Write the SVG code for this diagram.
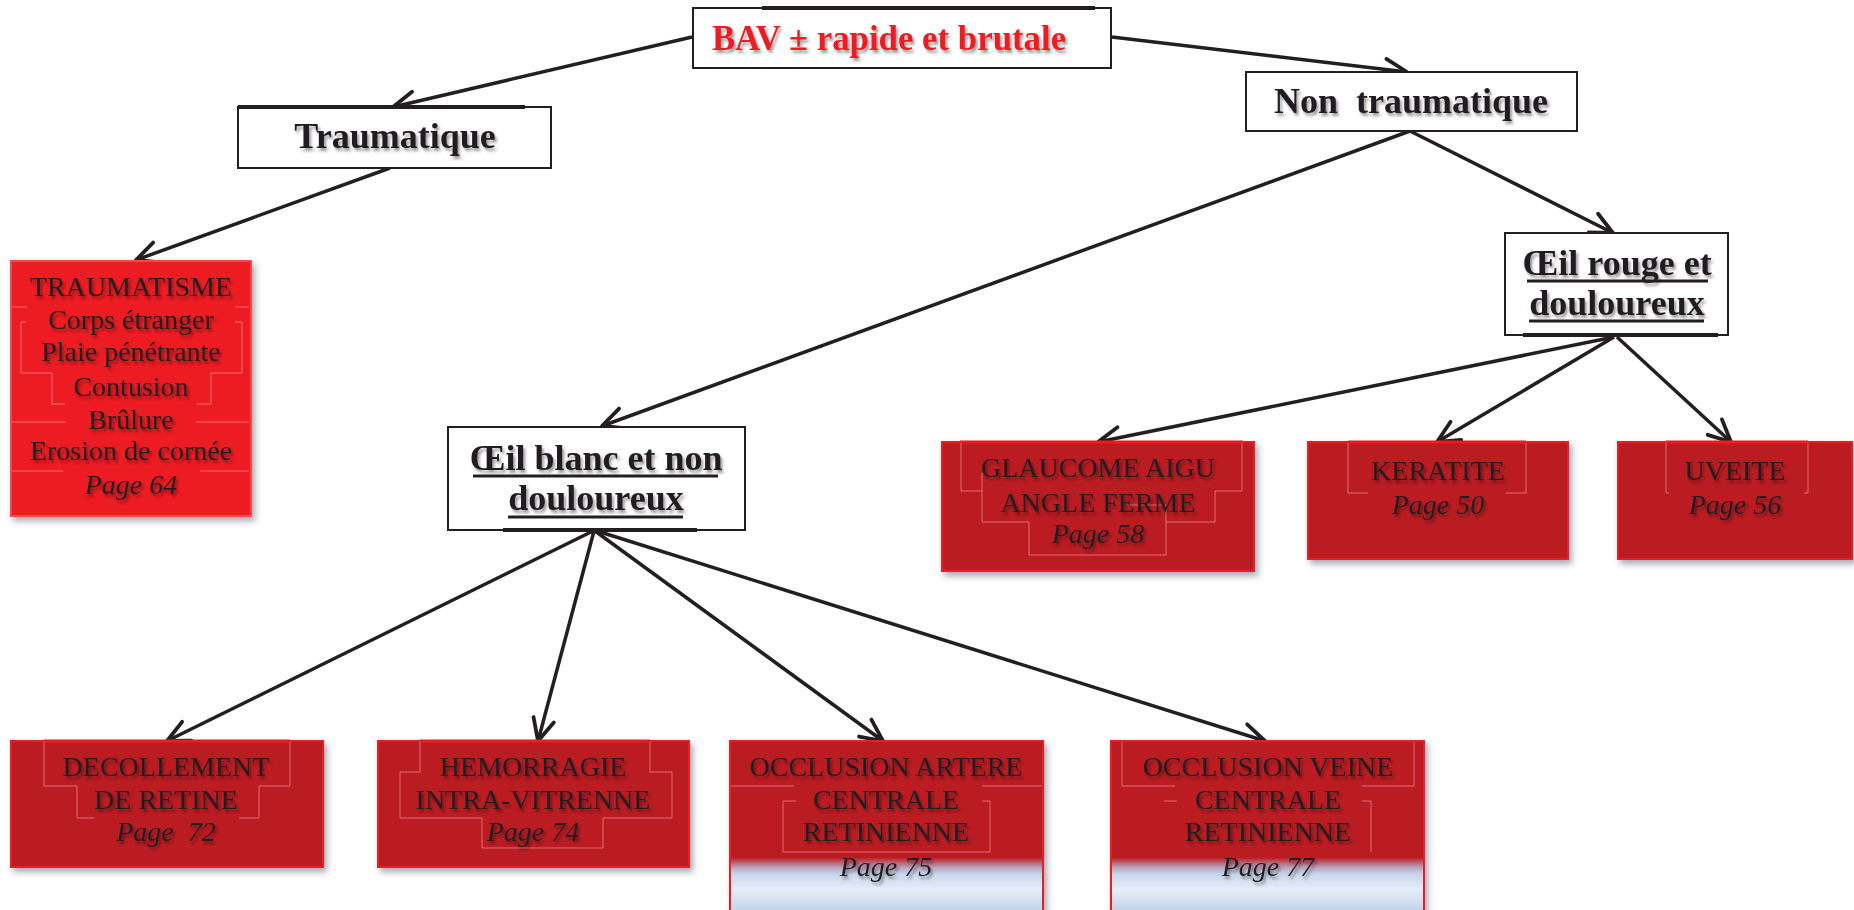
<svg xmlns="http://www.w3.org/2000/svg" width="1854" height="910" viewBox="0 0 1854 910">
<defs>
<style>
.wb{fill:#fff;stroke:#231F20;stroke-width:2}
.thick{stroke:#231F20;stroke-width:4}
.hd{font-family:"Liberation Serif","Times New Roman",serif;font-weight:bold;font-size:36px;fill:#231F20;text-anchor:middle;white-space:pre}
.ul{stroke:#231F20;stroke-width:3}
.rb{fill:#BB1E24;stroke:#ED1C24;stroke-width:2}
.rbb{fill:#ED1C24;stroke:#F04A50;stroke-width:2}
.tx{font-family:"Liberation Serif","Times New Roman",serif;font-size:28px;fill:#231F20;text-anchor:middle;white-space:pre}
.it{font-style:italic}
.deco{fill:none;stroke:#F08A8E;stroke-width:1;opacity:0.75}
.cn{fill:none;stroke:#231F20;stroke-width:3.5}
</style>
<filter id="ts" x="-10%" y="-30%" width="120%" height="160%">
<feDropShadow dx="2" dy="3" stdDeviation="1.5" flood-color="#000" flood-opacity="0.4"/>
</filter>
<filter id="bs" x="-5%" y="-5%" width="112%" height="115%">
<feDropShadow dx="3" dy="4" stdDeviation="3" flood-color="#3A3F55" flood-opacity="0.45"/>
</filter>
<marker id="ah" markerWidth="30" markerHeight="28" refX="25" refY="14" orient="auto" markerUnits="userSpaceOnUse">
<path d="M3,3.5 L25,14 L3,24.5" fill="none" stroke="#231F20" stroke-width="3.8" stroke-linecap="round" stroke-linejoin="round"/>
</marker>
<linearGradient id="gr" x1="0" y1="741" x2="0" y2="910" gradientUnits="userSpaceOnUse">
<stop offset="0" stop-color="#BB1E24"/>
<stop offset="0.69" stop-color="#BB1E24"/>
<stop offset="0.75" stop-color="#B9A6C0"/>
<stop offset="0.79" stop-color="#C8D7EC"/>
<stop offset="0.88" stop-color="#E6EEF8"/>
<stop offset="1" stop-color="#C4D4EA"/>
</linearGradient>
</defs>
<rect width="1854" height="910" fill="#fff"/>

<g id="connectors">
<line class="cn" x1="692" y1="37" x2="393" y2="107" marker-end="url(#ah)"/>
<line class="cn" x1="1112" y1="37" x2="1407" y2="72" marker-end="url(#ah)"/>
<line class="cn" x1="390" y1="168" x2="136" y2="260" marker-end="url(#ah)"/>
<line class="cn" x1="1410" y1="131" x2="602" y2="426" marker-end="url(#ah)"/>
<line class="cn" x1="1410" y1="131" x2="1613" y2="233" marker-end="url(#ah)"/>
<line class="cn" x1="1614" y1="337" x2="1098" y2="442" marker-end="url(#ah)"/>
<line class="cn" x1="1614" y1="337" x2="1437" y2="442" marker-end="url(#ah)"/>
<line class="cn" x1="1617" y1="337" x2="1731" y2="442" marker-end="url(#ah)"/>
<line class="cn" x1="593" y1="531" x2="167" y2="741" marker-end="url(#ah)"/>
<line class="cn" x1="594" y1="531" x2="538" y2="741" marker-end="url(#ah)"/>
<line class="cn" x1="595" y1="531" x2="883" y2="741" marker-end="url(#ah)"/>
<line class="cn" x1="597" y1="531" x2="1265" y2="741" marker-end="url(#ah)"/>
</g>

<g id="root">
<rect class="wb" x="693" y="8" width="418" height="60"/>
<line class="thick" x1="762" y1="8" x2="1095" y2="8"/>
<text x="889" y="50" filter="url(#ts)" style="font-family:'Liberation Serif','Times New Roman',serif;font-weight:bold;font-size:34.8px;fill:#ED1C24;text-anchor:middle">BAV ± rapide et brutale</text>
</g>

<g id="traumatique">
<rect class="wb" x="238" y="107" width="313" height="61"/>
<line class="thick" x1="238" y1="107" x2="525" y2="107"/>
<text class="hd" x="395" y="148" filter="url(#ts)">Traumatique</text>
</g>

<g id="non-traumatique">
<rect class="wb" x="1246" y="72" width="331" height="59"/>
<text class="hd" x="1411" y="113" filter="url(#ts)">Non  traumatique</text>
</g>

<g id="oeil-rouge">
<rect class="wb" x="1505" y="233" width="223" height="102"/>
<line class="thick" x1="1523" y1="335" x2="1718" y2="335"/>
<text class="hd" x="1617" y="275" filter="url(#ts)">Œil rouge et</text>
<text class="hd" x="1617" y="315" filter="url(#ts)">douloureux</text>
<line class="ul" x1="1527" y1="281" x2="1708" y2="281"/>
<line class="ul" x1="1529" y1="321" x2="1704" y2="321"/>
</g>

<g id="oeil-blanc">
<rect class="wb" x="448" y="427" width="297" height="103"/>
<line class="thick" x1="503" y1="530" x2="697" y2="530"/>
<text class="hd" x="596" y="470" filter="url(#ts)">Œil blanc et non</text>
<text class="hd" x="596" y="510" filter="url(#ts)">douloureux</text>
<line class="ul" x1="473" y1="476" x2="718" y2="476"/>
<line class="ul" x1="508" y1="517" x2="683" y2="517"/>
</g>

<g id="traumatisme">
<rect class="rbb" x="11" y="261" width="240" height="255" filter="url(#bs)"/>
<path class="deco" d="M12,307 H27 M235,307 H249 M26,322 H21 V373 H52 V404 H65 M235,322 H242 V373 H211 V404 H197 M12,422 H66 M196,422 H249 M12,471 H63 M200,471 H249"/>
<g filter="url(#ts)">
<text class="tx" x="131" y="296">TRAUMATISME</text>
<text class="tx" x="131" y="329">Corps étranger</text>
<text class="tx" x="131" y="361">Plaie pénétrante</text>
<text class="tx" x="131" y="396">Contusion</text>
<text class="tx" x="131" y="429">Brûlure</text>
<text class="tx" x="131" y="460">Erosion de cornée</text>
<text class="tx it" x="131" y="494">Page 64</text>
</g>
</g>

<g id="glaucome">
<rect class="rb" x="942" y="442" width="312" height="129" filter="url(#bs)"/>
<line x1="960" y1="442" x2="1243" y2="442" stroke="#ED1C24" stroke-width="3"/>
<path class="deco" d="M961,443 V491 H982 M982,473 V522 H1029 V555 H1166 V505 H1127 M1242,443 V491 H1215 V522 H1166"/>
<g filter="url(#ts)">
<text class="tx" x="1098" y="477">GLAUCOME AIGU</text>
<text class="tx" x="1098" y="512">ANGLE FERME</text>
<text class="tx it" x="1098" y="543">Page 58</text>
</g>
</g>

<g id="keratite">
<rect class="rb" x="1308" y="442" width="260" height="117" filter="url(#bs)"/>
<line x1="1348" y1="442" x2="1526" y2="442" stroke="#ED1C24" stroke-width="3"/>
<path class="deco" d="M1348,443 V493 H1368 M1526,443 V493 H1506"/>
<g filter="url(#ts)">
<text class="tx" x="1438" y="480">KERATITE</text>
<text class="tx it" x="1438" y="514">Page 50</text>
</g>
</g>

<g id="uveite">
<rect class="rb" x="1618" y="442" width="234" height="117" filter="url(#bs)"/>
<line x1="1666" y1="442" x2="1808" y2="442" stroke="#ED1C24" stroke-width="3"/>
<path class="deco" d="M1666,443 V493 H1669 M1808,443 V493 H1804"/>
<g filter="url(#ts)">
<text class="tx" x="1735" y="480">UVEITE</text>
<text class="tx it" x="1735" y="514">Page 56</text>
</g>
</g>

<g id="decollement">
<rect class="rb" x="11" y="741" width="312" height="126" filter="url(#bs)"/>
<line x1="44" y1="741" x2="290" y2="741" stroke="#ED1C24" stroke-width="3"/>
<path class="deco" d="M44,742 V786 H77 V818 H94 M290,742 V786 H259 V818 H239"/>
<g filter="url(#ts)">
<text class="tx" x="166" y="776">DECOLLEMENT</text>
<text class="tx" x="166" y="809">DE RETINE</text>
<text class="tx it" x="166" y="841">Page  72</text>
</g>
</g>

<g id="hemorragie">
<rect class="rb" x="378" y="741" width="311" height="126" filter="url(#bs)"/>
<line x1="420" y1="741" x2="650" y2="741" stroke="#ED1C24" stroke-width="3"/>
<path class="deco" d="M420,742 V772 H400 V818 H482 V848 H603 V818 H672 V772 H650 V742"/>
<g filter="url(#ts)">
<text class="tx" x="533" y="776">HEMORRAGIE</text>
<text class="tx" x="533" y="809">INTRA-VITRENNE</text>
<text class="tx it" x="533" y="841">Page 74</text>
</g>
</g>

<g id="occlusion-artere">
<rect x="730" y="741" width="313" height="175" fill="url(#gr)" stroke="#ED1C24" stroke-width="2" filter="url(#bs)"/>
<path class="deco" d="M731,786 H794 M982,786 H1042 M796,801 H783 V852 H990 V801 H982"/>
<g filter="url(#ts)">
<text class="tx" x="886" y="776">OCCLUSION ARTERE</text>
<text class="tx" x="886" y="809">CENTRALE</text>
<text class="tx" x="886" y="841">RETINIENNE</text>
<text class="tx it" x="886" y="876">Page 75</text>
</g>
</g>

<g id="occlusion-veine">
<rect x="1111" y="741" width="313" height="175" fill="url(#gr)" stroke="#ED1C24" stroke-width="2" filter="url(#bs)"/>
<path class="deco" d="M1122,742 V786 H1175 M1362,786 H1414 V742 M1164,801 H1177 M1362,801 H1371 V852"/>
<g filter="url(#ts)">
<text class="tx" x="1268" y="776">OCCLUSION VEINE</text>
<text class="tx" x="1268" y="809">CENTRALE</text>
<text class="tx" x="1268" y="841">RETINIENNE</text>
<text class="tx it" x="1268" y="876">Page 77</text>
</g>
</g>
</svg>
